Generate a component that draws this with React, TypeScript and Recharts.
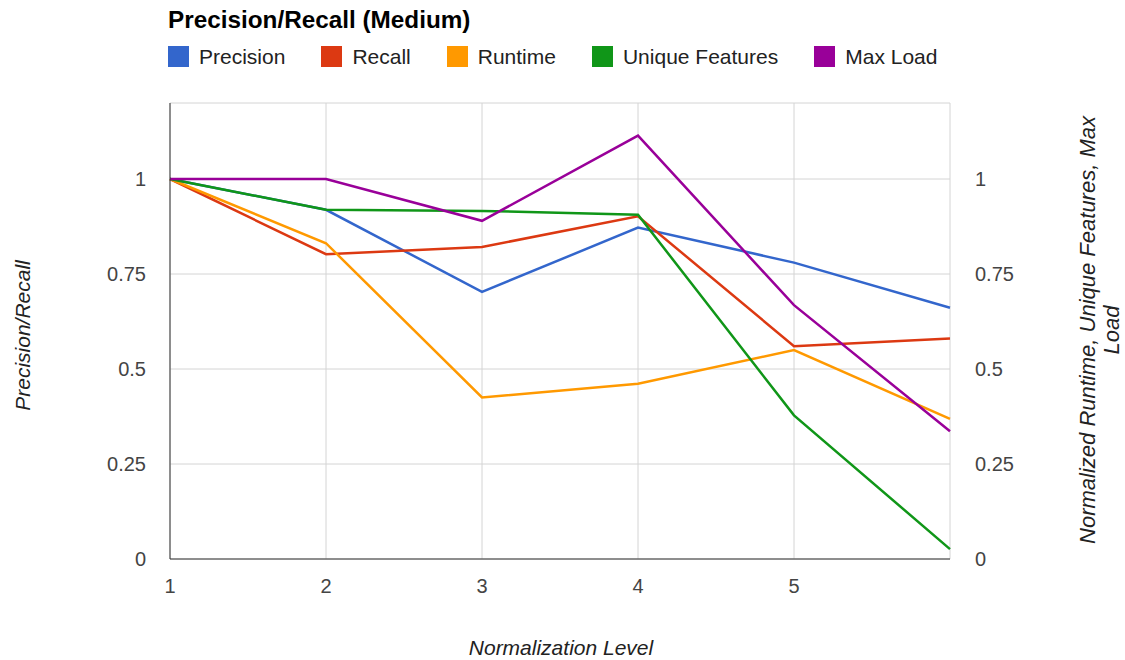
import React from "react";
import { LineChart, Line, XAxis, YAxis, CartesianGrid } from "recharts";

const levels = [1, 2, 3, 4, 5, 6];
const precision = [1, 0.919, 0.703, 0.872, 0.78, 0.661];
const recall = [1, 0.802, 0.821, 0.902, 0.56, 0.58];
const runtime = [1, 0.831, 0.425, 0.461, 0.55, 0.369];
const uniqueFeatures = [1, 0.919, 0.916, 0.906, 0.378, 0.026];
const maxLoad = [1, 1, 0.89, 1.114, 0.668, 0.336];

const xTicks = [1, 2, 3, 4, 5];
const yTicks = [0, 0.25, 0.5, 0.75, 1];

const SERIES = [
  { key: "precision", name: "Precision", color: "#3366cc", axis: "left" },
  { key: "recall", name: "Recall", color: "#dc3912", axis: "left" },
  { key: "runtime", name: "Runtime", color: "#ff9900", axis: "right" },
  { key: "uniqueFeatures", name: "Unique Features", color: "#109618", axis: "right" },
  { key: "maxLoad", name: "Max Load", color: "#990099", axis: "right" },
];

const data = levels.map((level, i) => ({
  level,
  precision: precision[i],
  recall: recall[i],
  runtime: runtime[i],
  uniqueFeatures: uniqueFeatures[i],
  maxLoad: maxLoad[i],
}));

const FONT = "'Liberation Sans', Arial, Helvetica, sans-serif";
const tickStyle = { fontSize: 20, fill: "#444", fontFamily: FONT };

export default function App() {
  return (
    <div style={{ position: "absolute", left: 0, top: 0, width: 1125, height: 660, background: "#fff", fontFamily: FONT }}>
      <LineChart width={1125} height={660} data={data} margin={{ top: 103, right: 115, bottom: 71, left: 110 }}>
        <CartesianGrid stroke="#d4d4d4" yAxisId="left" />
        <XAxis
          dataKey="level"
          type="number"
          domain={[1, 6]}
          ticks={xTicks}
          height={30}
          tickLine={false}
          tickSize={0}
          tickMargin={20}
          axisLine={{ stroke: "#333" }}
          tick={tickStyle}
        />
        <YAxis
          yAxisId="left"
          orientation="left"
          domain={[0, 1.2]}
          ticks={yTicks}
          width={60}
          tickLine={false}
          tickSize={0}
          tickMargin={24}
          axisLine={{ stroke: "#333" }}
          tick={tickStyle}
        />
        <YAxis
          yAxisId="right"
          orientation="right"
          domain={[0, 1.2]}
          ticks={yTicks}
          width={60}
          tickLine={false}
          tickSize={0}
          tickMargin={25}
          axisLine={false}
          tick={tickStyle}
        />
        {SERIES.map((s) => (
          <Line
            key={s.key}
            yAxisId={s.axis}
            type="linear"
            dataKey={s.key}
            name={s.name}
            stroke={s.color}
            strokeWidth={2.5}
            dot={false}
            activeDot={false}
            isAnimationActive={false}
          />
        ))}
      </LineChart>

      {/* title + legend */}
      <div style={{ position: "absolute", left: 168, top: 8, fontSize: 24.3, fontWeight: "bold", lineHeight: 1, color: "#000" }}>
        Precision/Recall (Medium)
      </div>
      <div style={{ position: "absolute", left: 168, top: 45, height: 22, display: "flex", alignItems: "center" }}>
        {SERIES.map((s) => (
          <div key={s.key} style={{ display: "flex", alignItems: "center", marginRight: 36 }}>
            <div style={{ width: 21, height: 21, background: s.color, marginRight: 10 }} />
            <span style={{ fontSize: 21, lineHeight: 1, color: "#222" }}>{s.name}</span>
          </div>
        ))}
      </div>

      {/* axis titles */}
      <div
        style={{
          position: "absolute",
          left: 361,
          top: 637,
          width: 400,
          textAlign: "center",
          fontSize: 21,
          lineHeight: 1,
          fontStyle: "italic",
          color: "#222",
        }}
      >
        Normalization Level
      </div>
      <div
        style={{
          position: "absolute",
          left: 22 - 100,
          top: 335 - 10.5,
          width: 200,
          height: 21,
          textAlign: "center",
          fontSize: 21,
          lineHeight: "21px",
          fontStyle: "italic",
          color: "#222",
          transform: "rotate(-90deg)",
        }}
      >
        Precision/Recall
      </div>
      <div
        style={{
          position: "absolute",
          left: 1100 - 225,
          top: 330 - 24,
          width: 450,
          height: 48,
          textAlign: "center",
          fontSize: 22,
          lineHeight: "24px",
          fontStyle: "italic",
          color: "#222",
          transform: "rotate(-90deg)",
        }}
      >
        Normalized Runtime, Unique Features, Max Load
      </div>
    </div>
  );
}
